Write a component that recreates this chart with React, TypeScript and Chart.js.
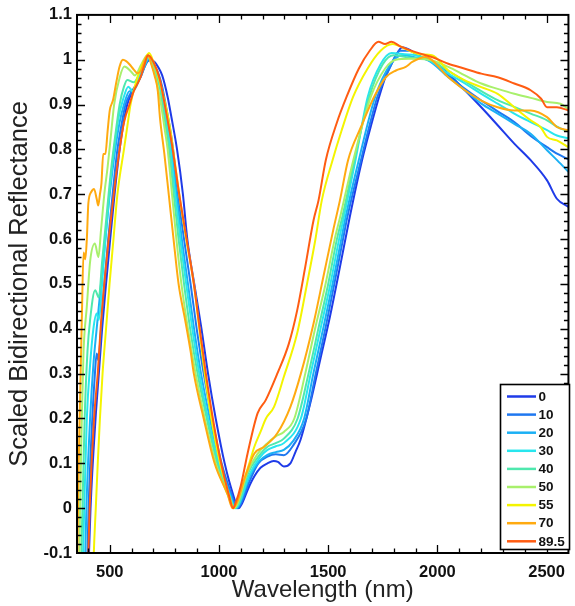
import React, { useEffect, useRef } from "react";
import { Chart, registerables } from "chart.js";

Chart.register(...registerables);

const FONT = "'Liberation Sans', Arial, Helvetica, sans-serif";

const seriesLabels = ["0", "10", "20", "30", "40", "50", "55", "70", "89.5"];
const seriesColors = ["#1f3be8", "#1f78f0", "#1bb0f5", "#28e6ee", "#4fe8ae", "#a8f06c", "#f4f400", "#ffaa10", "#ff5c12"];

const xTickValues = [500, 1000, 1500, 2000, 2500];
const yTickValues = [-0.1, 0, 0.1, 0.2, 0.3, 0.4, 0.5, 0.6, 0.7, 0.8, 0.9, 1.0, 1.1];

const wl0 = [400,405,412,435,450,465,483,502,522,545,560,580,600,625,650,670,690,705,720,740,765,783,808,835,855,887,920,950,985,1026,1065,1090,1105,1135,1162,1190,1222,1250,1270,1297,1327,1350,1373,1418,1463,1508,1554,1599,1655,1700,1733,1765,1800,1840,1880,1930,1975,2050,2126,2201,2276,2352,2427,2502,2547,2600];
const r0 = [-0.2,-0.1,0,0.2,0.3,0.4,0.5,0.6,0.7,0.8,0.85,0.9,0.925,0.947,0.975,0.995,1.0,0.995,0.985,0.965,0.917,0.87,0.8,0.7,0.6,0.5,0.4,0.3,0.2,0.1,0.03,0.0,0.01,0.045,0.071,0.09,0.1,0.105,0.103,0.093,0.1,0.125,0.152,0.234,0.33,0.427,0.538,0.65,0.776,0.86,0.917,0.965,1.0,1.028,1.02,1.005,0.998,0.969,0.932,0.894,0.854,0.813,0.776,0.731,0.69,0.672];

const wl10 = [395,398,403,420,432,440,448,460,475,493,513,535,552,572,595,615,640,665,682,700,722,740,756,775,790,812,840,870,898,930,968,1012,1058,1083,1100,1140,1180,1222,1260,1297,1340,1400,1443,1487,1528,1568,1588,1650,1690,1725,1780,1830,1870,1930,1975,2050,2126,2201,2276,2352,2427,2502,2550,2600];
const r10 = [-0.2,-0.1,0,0.2,0.3,0.345,0.33,0.4,0.5,0.6,0.7,0.8,0.85,0.9,0.925,0.94,0.96,0.99,1.0,0.99,0.97,0.94,0.9,0.85,0.8,0.7,0.6,0.5,0.4,0.3,0.2,0.1,0.03,0.0,0.01,0.06,0.1,0.115,0.12,0.118,0.14,0.2,0.3,0.4,0.5,0.6,0.65,0.776,0.855,0.917,0.98,1.02,1.02,1.005,0.995,0.965,0.935,0.909,0.885,0.861,0.83,0.805,0.79,0.778];

const wl20 = [385,388,393,410,425,440,460,480,500,525,545,565,590,605,635,660,680,700,720,740,752,768,783,806,830,858,886,918,958,1004,1052,1078,1095,1140,1185,1222,1260,1297,1340,1390,1432,1477,1520,1560,1580,1640,1715,1785,1840,1900,1960,2050,2126,2201,2276,2352,2427,2502,2550,2600];
const r20 = [-0.2,-0.1,0,0.2,0.32,0.4,0.5,0.6,0.7,0.8,0.86,0.9,0.93,0.93,0.955,0.985,1.005,0.99,0.965,0.935,0.9,0.85,0.8,0.7,0.6,0.5,0.4,0.3,0.2,0.1,0.03,0.0,0.01,0.07,0.105,0.119,0.125,0.13,0.15,0.2,0.3,0.4,0.5,0.6,0.65,0.776,0.917,0.99,1.01,1.005,0.998,0.961,0.932,0.902,0.88,0.857,0.835,0.798,0.775,0.75];

const wl30 = [374,378,383,395,410,425,440,450,465,480,498,520,540,560,585,605,640,665,678,695,715,735,748,763,778,800,823,850,878,910,950,998,1048,1075,1092,1140,1190,1222,1260,1297,1375,1420,1465,1510,1550,1572,1625,1681,1740,1790,1850,1900,1960,2050,2126,2201,2276,2352,2427,2502,2547,2600];
const r30 = [-0.2,-0.1,0,0.2,0.32,0.4,0.434,0.42,0.5,0.6,0.7,0.8,0.87,0.91,0.94,0.93,0.965,0.995,1.005,0.99,0.965,0.935,0.9,0.85,0.8,0.7,0.6,0.5,0.4,0.3,0.2,0.1,0.03,0.0,0.01,0.075,0.115,0.13,0.138,0.145,0.2,0.3,0.4,0.5,0.6,0.65,0.776,0.917,0.99,1.015,1.012,1.01,1.0,0.969,0.947,0.924,0.902,0.88,0.861,0.843,0.831,0.825];

const wl40 = [366,370,375,385,398,410,433,450,465,485,505,525,545,565,580,610,645,675,690,710,730,742,757,772,793,815,840,868,902,944,992,1045,1072,1090,1135,1180,1222,1260,1297,1360,1410,1455,1500,1540,1565,1620,1688,1750,1800,1870,1960,2050,2126,2201,2276,2352,2427,2502,2550,2600];
const r40 = [-0.2,-0.1,0,0.2,0.35,0.42,0.486,0.47,0.55,0.65,0.75,0.83,0.9,0.94,0.955,0.95,0.98,1.01,0.995,0.97,0.935,0.9,0.85,0.8,0.7,0.6,0.5,0.4,0.3,0.2,0.1,0.03,0.0,0.01,0.08,0.115,0.137,0.145,0.155,0.2,0.3,0.4,0.5,0.6,0.65,0.776,0.917,0.99,1.01,1.005,1.0,0.975,0.952,0.93,0.91,0.895,0.88,0.865,0.85,0.84];

const wl50 = [358,361,364,372,380,395,410,432,448,460,475,490,505,520,545,567,595,615,645,672,688,705,722,735,750,765,785,805,828,858,893,935,985,1040,1068,1085,1130,1175,1222,1260,1297,1345,1395,1440,1488,1530,1555,1615,1695,1760,1810,1870,1960,2050,2126,2201,2276,2352,2427,2502,2563,2600];
const r50 = [-0.2,-0.1,0,0.2,0.35,0.45,0.55,0.59,0.56,0.62,0.7,0.76,0.83,0.9,0.96,0.985,0.975,0.965,0.99,1.01,0.995,0.97,0.935,0.9,0.85,0.8,0.7,0.6,0.5,0.4,0.3,0.2,0.1,0.03,0.0,0.01,0.08,0.12,0.145,0.16,0.17,0.2,0.3,0.4,0.5,0.6,0.65,0.776,0.917,0.98,1.0,1.002,1.0,0.984,0.965,0.947,0.935,0.924,0.915,0.906,0.902,0.89];

const wl55 = [422,427,436,445,455,467,483,499,517,535,565,580,595,620,645,665,680,700,718,740,755,775,790,818,850,885,910,935,965,1005,1045,1068,1080,1100,1139,1162,1190,1215,1252,1297,1358,1403,1441,1471,1520,1560,1614,1680,1740,1795,1850,1920,1975,2050,2126,2201,2276,2352,2427,2472,2502,2547,2600];
const r55 = [-0.2,-0.1,0,0.1,0.2,0.3,0.4,0.5,0.6,0.7,0.8,0.85,0.9,0.95,0.985,1.005,1.015,0.995,0.97,0.93,0.9,0.85,0.8,0.7,0.6,0.5,0.4,0.3,0.2,0.1,0.03,0.0,0.01,0.04,0.1,0.137,0.17,0.2,0.226,0.293,0.39,0.5,0.598,0.687,0.776,0.84,0.917,0.98,1.02,1.035,1.025,1.012,1.01,0.976,0.954,0.939,0.924,0.894,0.865,0.85,0.828,0.82,0.805];

const wl70 = [349,352,356,362,368,372,380,388,395,402,415,428,440,447,455,462,470,480,490,500,515,530,545,560,575,590,610,627,645,660,675,690,705,720,730,750,770,792,815,845,870,885,930,980,1040,1062,1080,1120,1162,1207,1267,1327,1375,1433,1478,1523,1554,1591,1650,1710,1764,1810,1855,1885,1945,2050,2126,2201,2276,2352,2427,2502,2547,2600];
const r70 = [-0.2,-0.1,0.05,0.2,0.33,0.42,0.57,0.555,0.6,0.68,0.705,0.712,0.69,0.675,0.7,0.725,0.79,0.79,0.84,0.887,0.91,0.95,0.985,1.0,0.997,0.99,0.978,0.97,0.978,1.0,1.01,0.99,0.965,0.93,0.87,0.79,0.7,0.6,0.5,0.42,0.35,0.3,0.2,0.1,0.03,0.0,0.01,0.07,0.122,0.137,0.167,0.226,0.3,0.412,0.516,0.62,0.687,0.776,0.85,0.917,0.961,0.976,0.984,0.995,1.006,0.961,0.932,0.909,0.894,0.887,0.887,0.872,0.85,0.843];

const wl89 = [397,402,408,428,445,458,475,495,518,545,565,590,610,640,660,675,700,730,748,768,785,818,852,885,912,940,972,1010,1045,1065,1075,1100,1131,1177,1214,1267,1320,1358,1395,1433,1456,1489,1540,1584,1640,1690,1730,1760,1790,1830,1900,1975,2050,2126,2201,2276,2352,2427,2475,2502,2547,2600];
const r89 = [-0.2,-0.1,0,0.2,0.3,0.4,0.5,0.6,0.7,0.8,0.86,0.9,0.93,0.96,0.99,1.01,0.995,0.955,0.91,0.857,0.81,0.7,0.6,0.5,0.4,0.3,0.2,0.1,0.03,0.0,0.01,0.05,0.122,0.212,0.241,0.3,0.367,0.441,0.538,0.642,0.687,0.776,0.86,0.917,0.98,1.02,1.04,1.035,1.04,1.03,1.017,1.006,0.991,0.98,0.969,0.961,0.947,0.932,0.913,0.894,0.894,0.887];

const seriesWl = [wl0, wl10, wl20, wl30, wl40, wl50, wl55, wl70, wl89];
const seriesVal = [r0, r10, r20, r30, r40, r50, r55, r70, r89];

const frameAndLegend = {
  id: "frameAndLegend",
  afterDraw(chart: any) {
    const { ctx, chartArea } = chart;
    const { left, right, top, bottom } = chartArea;
    const xs = chart.scales.x;
    const ys = chart.scales.y;
    ctx.save();
    ctx.strokeStyle = "#000";
    ctx.lineWidth = 1.3;
    ctx.beginPath();
    for (let v = 400; v <= 2600; v += 100) {
      const px = Math.round(xs.getPixelForValue(v)) + 0.5;
      if (px <= left + 1 || px >= right - 1) continue;
      const len = v % 500 === 0 ? 8 : 4.5;
      ctx.moveTo(px, bottom);
      ctx.lineTo(px, bottom - len);
      ctx.moveTo(px, top);
      ctx.lineTo(px, top + len);
    }
    for (let k = -5; k <= 55; k++) {
      const py = Math.round(ys.getPixelForValue(k * 0.02)) + 0.5;
      if (py <= top + 1 || py >= bottom - 1) continue;
      const len = k % 5 === 0 ? 8 : 4.5;
      ctx.moveTo(left, py);
      ctx.lineTo(left + len, py);
      ctx.moveTo(right, py);
      ctx.lineTo(right - len, py);
    }
    ctx.stroke();
    ctx.lineWidth = 2;
    ctx.strokeRect(left, top, right - left, bottom - top);

    // legend box
    const bx = 500, by = 384, bw = 69, bh = 165;
    ctx.fillStyle = "#fff";
    ctx.fillRect(bx, by, bw, bh);
    ctx.lineWidth = 1.6;
    ctx.strokeStyle = "#000";
    ctx.strokeRect(bx + 0.5, by + 0.5, bw, bh);
    ctx.font = `bold 13.5px ${FONT}`;
    ctx.textBaseline = "middle";
    ctx.textAlign = "left";
    chart.data.datasets.forEach((ds: any, i: number) => {
      const ry = 396.5 + i * 18.1;
      ctx.strokeStyle = ds.borderColor;
      ctx.lineWidth = 2.5;
      ctx.beginPath();
      ctx.moveTo(507, ry);
      ctx.lineTo(536, ry);
      ctx.stroke();
      ctx.fillStyle = "#111";
      ctx.fillText(ds.label, 538.5, ry + 0.5);
    });
    ctx.restore();
  },
};

export default function App() {
  const ref = useRef<HTMLCanvasElement | null>(null);
  useEffect(() => {
    if (!ref.current) return;
    const datasets = seriesLabels.map((label, i) => ({
      label,
      data: seriesWl[i].map((w, j) => ({ x: w, y: seriesVal[i][j] })),
      borderColor: seriesColors[i],
      backgroundColor: seriesColors[i],
      borderWidth: 2,
      pointRadius: 0,
      cubicInterpolationMode: "monotone" as const,
      fill: false,
      order: seriesLabels.length - i,
    }));
    const chart = new Chart(ref.current, {
      type: "line",
      data: { datasets },
      options: {
        animation: false,
        responsive: false,
        events: [],
        layout: { padding: { top: 14, right: 1, left: 0, bottom: 0 } },
        plugins: { legend: { display: false }, tooltip: { enabled: false } },
        scales: {
          x: {
            type: "linear",
            min: 350,
            max: 2600,
            afterBuildTicks: (s: any) => {
              s.ticks = xTickValues.map((v) => ({ value: v }));
            },
            afterFit: (s: any) => {
              s.height = 53;
            },
            grid: { display: false, drawTicks: false },
            border: { display: false },
            ticks: {
              autoSkip: false,
              maxRotation: 0,
              padding: 10,
              color: "#111",
              font: { family: FONT, size: 16.5, weight: "bold" },
              callback: (v: any) => String(v),
            },
            title: {
              display: true,
              text: "Wavelength (nm)",
              color: "#222",
              font: { family: FONT, size: 24 },
              padding: { top: 0, bottom: 1 },
            },
          },
          y: {
            type: "linear",
            min: -0.1,
            max: 1.1,
            afterBuildTicks: (s: any) => {
              s.ticks = yTickValues.map((v) => ({ value: v }));
            },
            afterFit: (s: any) => {
              s.width = 77;
            },
            grid: { display: false, drawTicks: false },
            border: { display: false },
            ticks: {
              autoSkip: false,
              padding: 5,
              color: "#111",
              font: { family: FONT, size: 16.5, weight: "bold" },
              callback: (v: any) => {
                const r = Math.round(Number(v) * 10) / 10;
                return r === 0 ? "0" : String(r);
              },
            },
            title: {
              display: true,
              text: "Scaled Bidirectional Reflectance",
              color: "#222",
              font: { family: FONT, size: 25.5 },
              padding: { top: 5, bottom: 0 },
            },
          },
        },
      },
      plugins: [frameAndLegend],
    });
    return () => chart.destroy();
  }, []);
  return (
    <div style={{ position: "absolute", left: 0, top: 0, width: 575, height: 606, background: "#fff" }}>
      <canvas ref={ref} width={575} height={606} />
    </div>
  );
}
